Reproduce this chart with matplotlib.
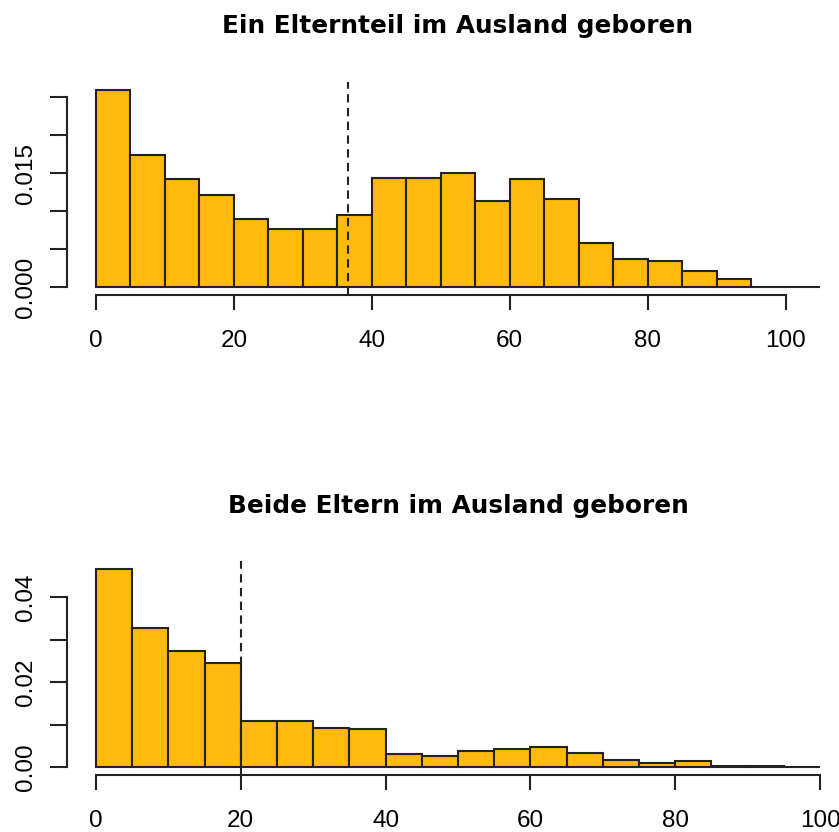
import numpy as np
import matplotlib.pyplot as plt

# histogram densities (bins of width 5)
breaks_one = np.arange(0, 110, 5)   # 0..105
dens_one = [0.0260, 0.0174, 0.0143, 0.0121, 0.0090, 0.0076, 0.0076, 0.0095,
            0.0144, 0.0144, 0.0150, 0.0113, 0.0142, 0.0116, 0.0058, 0.0037,
            0.0035, 0.0021, 0.0011, 0.0, 0.0]
mean_one = 36.5

breaks_both = np.arange(0, 105, 5)  # 0..100
dens_both = [0.0466, 0.0329, 0.0273, 0.0245, 0.0108, 0.0108, 0.0093, 0.0089,
             0.0032, 0.0027, 0.0038, 0.0042, 0.0047, 0.0033, 0.0017, 0.0009,
             0.0014, 0.0003, 0.0002, 0.0]
mean_both = 20.0

titles = ["Ein Elternteil im Ausland geboren", "Beide Eltern im Ausland geboren"]
x_ticks = [0, 20, 40, 60, 80, 100]
y_ticks_one = [0, 0.005, 0.010, 0.015, 0.020, 0.025]
y_labels_one = ["0.000", "", "", "0.015", "", ""]
y_ticks_both = [0, 0.01, 0.02, 0.03, 0.04]
y_labels_both = ["0.00", "", "0.02", "", "0.04"]

fill = "#FFB90F"   # darkgoldenrod1
ink = "#222222"
lw = 1.5

plt.rcParams['font.family'] = ['Liberation Sans', 'DejaVu Sans']

fig = plt.figure(figsize=(8.39, 8.32), dpi=100)
W, H = 839, 832

def panel(top_px, bottom_px, breaks, dens, mean, title, yt, yl):
    ax = fig.add_axes([67 / W, 1 - bottom_px / H, (849 - 67) / W, (bottom_px - top_px) / H])
    ax.bar(breaks[:-1], dens, width=5, align='edge', color=fill,
           edgecolor=ink, linewidth=lw)
    lo, hi = breaks[0], breaks[-1]
    pad_x = 0.04 * (hi - lo)
    m = max(dens)
    ax.set_xlim(lo - pad_x, hi + pad_x)
    ax.set_ylim(-0.04 * m, 1.04 * m)
    ax.axvline(mean, color=ink, linewidth=lw, linestyle=(0, (4, 2.6)))

    for s in ['top', 'right']:
        ax.spines[s].set_visible(False)
    ax.spines['bottom'].set_bounds(x_ticks[0], x_ticks[-1])
    ax.spines['left'].set_bounds(yt[0], yt[-1])
    for s in ['bottom', 'left']:
        ax.spines[s].set_linewidth(lw)
        ax.spines[s].set_color(ink)

    ax.set_xticks(x_ticks)
    ax.set_xticklabels([str(t) for t in x_ticks])
    ax.set_yticks(yt)
    ax.set_yticklabels(yl, rotation=90, va='center')
    ax.tick_params(axis='x', length=11, width=lw, color=ink, pad=14, labelsize=17.5)
    ax.tick_params(axis='y', length=12.5, width=lw, color=ink, pad=9, labelsize=17.5)
    ax.set_title(title, fontsize=17.8, fontweight='bold', pad=35,
                 family=['DejaVu Sans'])
    return ax

panel(81.6, 295.2, breaks_one, dens_one, mean_one, titles[0], y_ticks_one, y_labels_one)
panel(561.4, 775.2, breaks_both, dens_both, mean_both, titles[1], y_ticks_both, y_labels_both)

fig.savefig("out.png", dpi=100)
